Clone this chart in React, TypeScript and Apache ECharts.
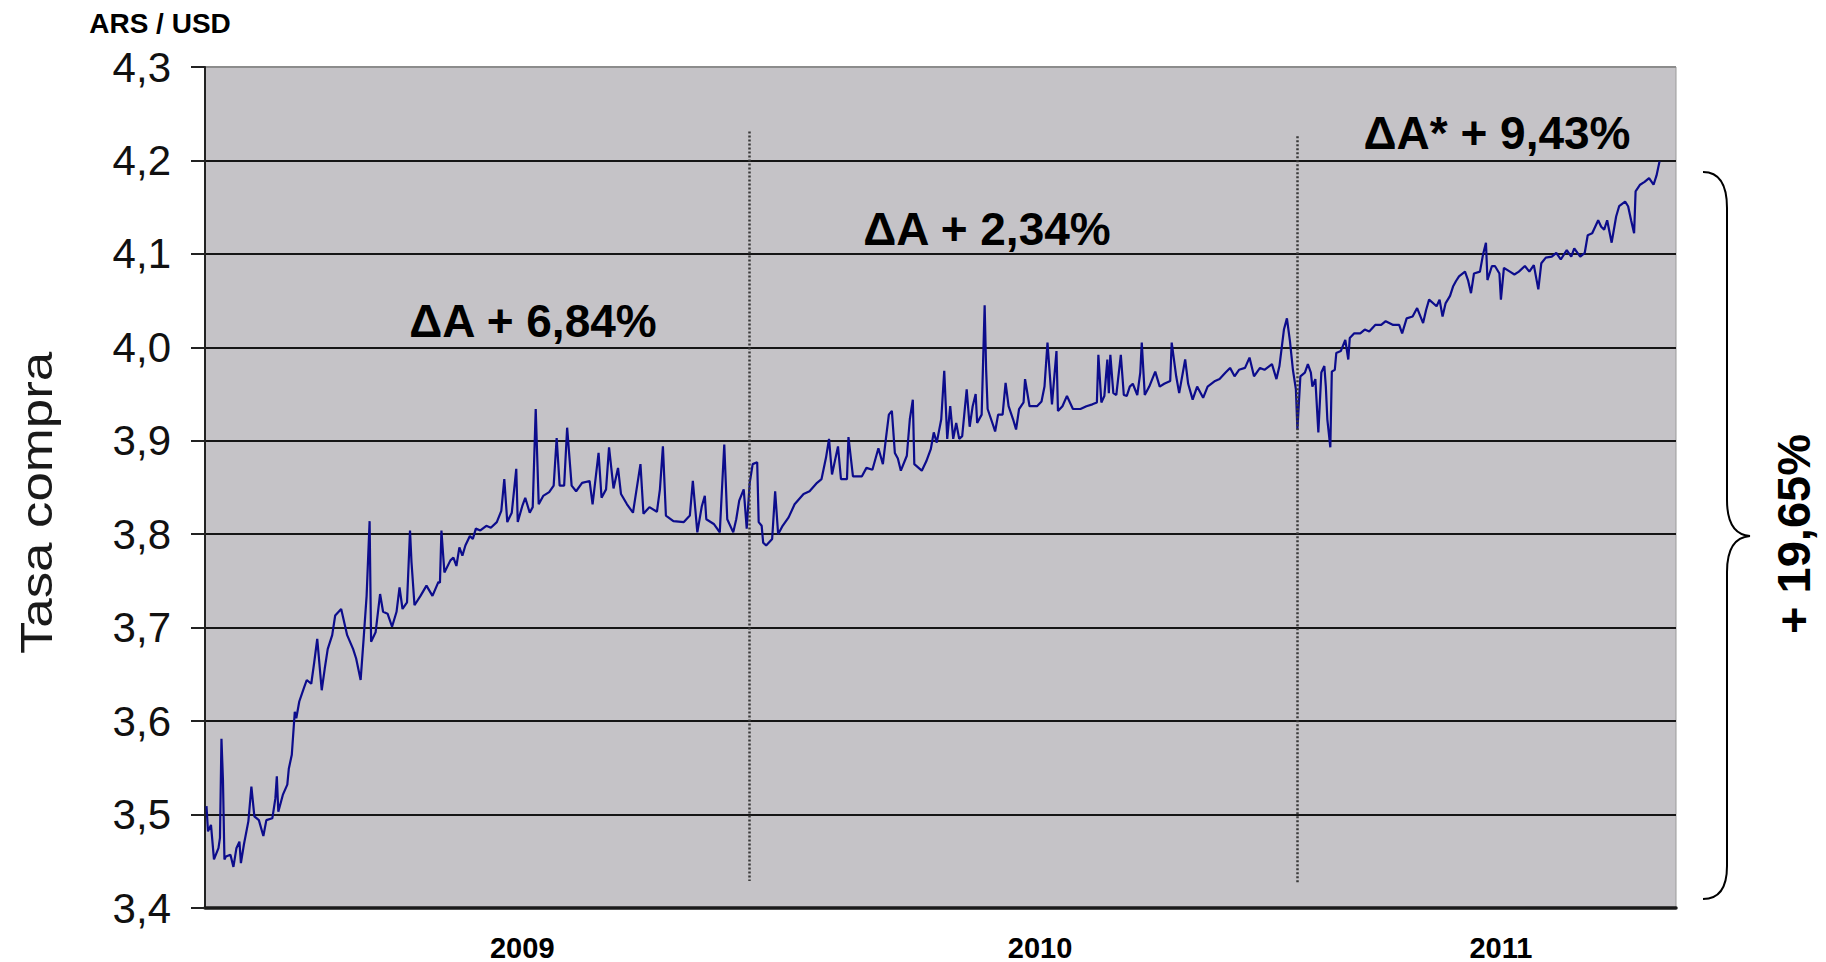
import React, { useEffect, useRef } from "react";
import * as echarts from "echarts";

// Days since the first observation (left edge of the chart) and buying rate ARS/USD
const days = [
  1, 2, 4, 6, 9, 10, 11, 12, 13, 14, 17, 19, 21, 23, 24, 26, 29, 31, 33, 36, 39, 41, 45, 47, 48, 49,
  52, 55, 56, 58, 60, 61, 63, 66, 68, 71, 73, 75, 78, 80, 82, 85, 87, 91, 95, 99, 101, 104, 106, 108,
  110, 111, 114, 117, 119, 122, 125, 128, 130, 132, 135, 137, 138, 140, 144, 148, 152, 156,
  157, 158, 159, 160, 164, 166, 168, 170, 172, 174, 177, 179, 181, 184, 188, 191, 195, 198, 200, 202,
  205, 208, 209, 212, 214, 217, 219, 221, 223, 226, 230, 233, 235, 237, 240, 242, 245, 248, 252, 257,
  259, 263, 265, 268, 270, 273, 276, 278, 282, 286, 291, 293, 297, 302,
  304, 306, 308, 313, 320, 324, 326, 329, 332, 334, 335, 340, 344, 347, 349, 353, 355, 357, 360, 362,
  364, 366, 369, 370, 372, 373, 375, 379, 381, 383, 386, 390, 394, 400, 404, 409, 412, 415, 417, 419,
  423, 425, 429, 430, 433, 439, 442, 446, 450,
  453, 455, 457, 459, 461, 463, 465, 469, 471, 473, 474, 479, 482, 485, 487, 489, 492, 494, 496, 498,
  500, 502, 504, 506, 509, 511, 513, 515, 516, 519, 521, 522, 523, 527, 528, 530, 533, 535, 537, 540,
  542, 544, 547, 548, 551, 556, 559, 561, 563, 566, 569, 570, 573, 576, 580, 585, 589, 593, 596, 597,
  599, 601, 603, 604, 605, 607, 609, 612, 614, 616, 618, 620, 623, 625, 626, 628, 631, 635, 638, 641,
  645, 646, 649, 651, 655, 657, 660, 663, 667, 670, 675, 678, 682, 685, 688, 691, 695, 698, 701, 705,
  708, 713, 716, 718, 721, 723, 725, 727, 729, 730, 732, 735, 737, 739, 740, 742, 744, 746, 748, 749,
  750, 752, 753, 755, 756, 759, 762, 764, 765, 768, 772, 775, 778, 782, 786, 789, 794, 798, 800, 803,
  807, 810, 814, 816, 818, 823, 825, 827, 829, 832, 834, 836, 838, 842, 844, 846, 848, 852, 854, 856,
  857, 860, 862, 865, 866, 868, 872, 875, 878, 882, 885, 888, 891, 893, 896, 900, 903, 906, 910, 913,
  915, 919, 922, 924, 927, 931, 933, 935, 937, 940, 943, 945, 949, 951, 953, 955, 956, 959, 962, 965,
  968, 970, 972,
];

const rates = [
  3.509, 3.482, 3.489, 3.452, 3.464, 3.475, 3.581, 3.537, 3.452, 3.455, 3.457, 3.444, 3.464, 3.471, 3.448, 3.468, 3.493, 3.53, 3.498, 3.494, 3.477, 3.494, 3.496, 3.517, 3.541, 3.503,
  3.521, 3.532, 3.549, 3.564, 3.61, 3.603, 3.621, 3.635, 3.644, 3.64, 3.663, 3.688, 3.633, 3.656, 3.677, 3.692, 3.713, 3.72, 3.692, 3.677, 3.667, 3.644, 3.688, 3.734,
  3.814, 3.685, 3.695, 3.736, 3.717, 3.715, 3.701, 3.717, 3.743, 3.72, 3.727, 3.804, 3.77, 3.724, 3.734, 3.745, 3.734, 3.749,
  3.748, 3.804, 3.781, 3.759, 3.772, 3.775, 3.766, 3.786, 3.777, 3.788, 3.798, 3.795, 3.806, 3.804, 3.809, 3.807, 3.813, 3.825, 3.859, 3.813,
  3.823, 3.87, 3.813, 3.83, 3.839, 3.823, 3.829, 3.934, 3.832, 3.841, 3.845, 3.852, 3.903, 3.852, 3.852, 3.914, 3.852, 3.846, 3.855, 3.857,
  3.832, 3.887, 3.839, 3.848, 3.893, 3.849, 3.871, 3.843, 3.832, 3.823, 3.875, 3.822, 3.829, 3.824,
  3.848, 3.894, 3.82, 3.814, 3.813, 3.82, 3.857, 3.802, 3.83, 3.841, 3.816, 3.811, 3.802, 3.896, 3.816, 3.802, 3.816, 3.836, 3.848, 3.806,
  3.855, 3.875, 3.877, 3.813, 3.809, 3.791, 3.788, 3.795, 3.846, 3.8, 3.809, 3.818, 3.832, 3.843, 3.846, 3.855, 3.859, 3.882, 3.902, 3.864,
  3.894, 3.859, 3.859, 3.904, 3.862, 3.862, 3.871, 3.869, 3.892,
  3.875, 3.902, 3.928, 3.932, 3.887, 3.881, 3.868, 3.884, 3.923, 3.944, 3.875, 3.868, 3.878, 3.891, 3.909, 3.898, 3.923, 3.975, 3.902, 3.937,
  3.902, 3.919, 3.902, 3.905, 3.955, 3.915, 3.937, 3.95, 3.919, 3.928, 4.045, 3.976, 3.934, 3.915, 3.91, 3.928, 3.928, 3.962, 3.937, 3.923,
  3.912, 3.934, 3.941, 3.966, 3.937, 3.937, 3.942, 3.958, 4.005, 3.939, 3.996, 3.932, 3.937, 3.948, 3.934, 3.934, 3.937, 3.939, 3.941, 3.992,
  3.941, 3.948, 3.987, 3.951, 3.992, 3.951, 3.949, 3.992, 3.949, 3.948, 3.958, 3.961, 3.949, 3.973, 4.005, 3.949, 3.958, 3.974, 3.958, 3.961,
  3.964, 4.005, 3.969, 3.951, 3.987, 3.961, 3.944, 3.958, 3.946, 3.958, 3.964, 3.966, 3.973, 3.978, 3.969, 3.976, 3.978, 3.989, 3.969, 3.978,
  3.976, 3.982, 3.966, 3.98, 4.019, 4.031, 4.007, 3.976, 3.955, 3.912, 3.969, 3.973, 3.982, 3.973, 3.958, 3.966, 3.909, 3.973, 3.98, 3.958,
  3.923, 3.893, 3.974, 3.976, 3.994, 3.996, 4.008, 3.987, 4.01, 4.015, 4.015, 4.019, 4.017, 4.024, 4.024, 4.028, 4.024, 4.024, 4.015, 4.031,
  4.033, 4.042, 4.026, 4.04, 4.051, 4.044, 4.051, 4.033, 4.047, 4.055, 4.065, 4.071, 4.076, 4.081, 4.072, 4.058, 4.079, 4.081, 4.099, 4.112,
  4.072, 4.087, 4.087, 4.079, 4.051, 4.085, 4.081, 4.078, 4.081, 4.087, 4.081, 4.088, 4.062, 4.09, 4.096, 4.097, 4.101, 4.094, 4.104, 4.097,
  4.106, 4.097, 4.101, 4.12, 4.122, 4.136, 4.129, 4.126, 4.136, 4.112, 4.14, 4.151, 4.156, 4.151, 4.136, 4.122, 4.167, 4.174, 4.177, 4.181,
  4.174, 4.184, 4.199,
];

// Axis range and labels
const dayMax = 983;
const rateMin = 3.4;
const rateMax = 4.3;
const rateStep = 0.1;
const yearLabels = ["2009", "2010", "2011"];
const yearLabelDays = [212, 558, 866];

// Period separators (day, top rate, bottom rate)
const separatorDays = [364, 730];
const separatorTop = [4.231, 4.226];
const separatorBottom = [3.429, 3.427];

// Annotations
const periodTexts = ["\u0394A + 6,84%", "\u0394A + 2,34%", "\u0394A* + 9,43%"];
const totalText = "+ 19,65%";
const unitText = "ARS / USD";
const axisTitle = "Tasa compra";

const FONT = '"Liberation Sans", Arial, Helvetica, sans-serif';

let braceRegistered = false;
function registerBrace() {
  if (braceRegistered) return;
  braceRegistered = true;
  const d =
    "M1703,172 C1717,172 1727,182 1727,208 L1727,500 C1727,524 1736,535 1750,536 " +
    "C1736,537 1727,548 1727,572 L1727,866 C1727,890 1717,899 1703,899";
  echarts.graphic.registerShape("brace", echarts.graphic.extendPath(d, {}));
}

export default function App() {
  const ref = useRef<HTMLDivElement>(null);

  useEffect(() => {
    if (!ref.current) return;
    registerBrace();
    const chart = echarts.init(ref.current, undefined, { renderer: "svg" });

    const lineData = days.map((d, i) => [d, rates[i]]);
    const splitColors = Array.from({ length: 10 }, (_, i) => (i === 9 ? "#8c8c8c" : "#151515"));

    const textStyle = (size: number, weight: string) => ({
      fontSize: size,
      fontWeight: weight,
      fontFamily: FONT,
      fill: "#000",
      textAlign: "center",
      textVerticalAlign: "middle",
    });

    const option: any = {
      animation: false,
      backgroundColor: "#ffffff",
      grid: {
        left: 205,
        right: 150,
        top: 67,
        bottom: 52,
        show: true,
        backgroundColor: "#c5c3c7",
        borderColor: "#9a9a9a",
        borderWidth: 1,
      },
      xAxis: {
        type: "value",
        min: 0,
        max: dayMax,
        axisLine: { show: true, lineStyle: { color: "#1a1a1a", width: 3.5 } },
        axisTick: { show: false },
        splitLine: { show: false },
        axisLabel: {
          customValues: yearLabelDays,
          formatter: (v: number) => {
            const i = yearLabelDays.indexOf(v);
            return i >= 0 ? yearLabels[i] : "";
          },
          fontSize: 29,
          fontWeight: "bold",
          fontFamily: FONT,
          color: "#000",
          margin: 25,
        },
      },
      yAxis: {
        type: "value",
        min: rateMin,
        max: rateMax,
        interval: rateStep,
        axisLine: { show: true, lineStyle: { color: "#222", width: 2 } },
        axisTick: { show: true, length: 14, lineStyle: { color: "#222", width: 2 } },
        splitLine: { show: true, lineStyle: { color: splitColors, width: 2 } },
        axisLabel: {
          formatter: (v: number) => v.toFixed(1).replace(".", ","),
          fontSize: 42,
          fontFamily: FONT,
          color: "#111",
          margin: 34,
        },
      },
      series: [
        {
          type: "line",
          data: lineData,
          showSymbol: false,
          symbol: "none",
          lineStyle: { color: "#0c0c8c", width: 2.2 },
          z: 3,
          markLine: {
            silent: true,
            symbol: ["none", "none"],
            label: { show: false },
            lineStyle: { color: "#3a3a3a", width: 2.5, type: [2, 2] },
            data: separatorDays.map((d, i) => [
              { coord: [d, separatorTop[i]] },
              { coord: [d, separatorBottom[i]] },
            ]),
          },
        },
      ],
      graphic: [
        {
          type: "text",
          x: 160,
          y: 23,
          style: { text: unitText, ...textStyle(28, "bold") },
        },
        {
          type: "text",
          x: 37,
          y: 503,
          rotation: Math.PI / 2,
          scaleX: 1.2,
          style: { text: axisTitle, ...textStyle(44, "normal"), fill: "#1a1a1a" },
        },
        {
          type: "text",
          x: 533,
          y: 321,
          z: 10,
          style: { text: periodTexts[0], ...textStyle(46, "bold") },
        },
        {
          type: "text",
          x: 987,
          y: 229,
          z: 10,
          style: { text: periodTexts[1], ...textStyle(46, "bold") },
        },
        {
          type: "text",
          x: 1497,
          y: 133,
          z: 10,
          style: { text: periodTexts[2], ...textStyle(46, "bold") },
        },
        {
          type: "brace",
          x: 0,
          y: 0,
          shape: {},
          style: { stroke: "#000", fill: "none", lineWidth: 2 },
        },
        {
          type: "text",
          x: 1793,
          y: 534,
          rotation: Math.PI / 2,
          style: { text: totalText, ...textStyle(47, "bold") },
        },
      ],
    };

    chart.setOption(option);
    return () => chart.dispose();
  }, []);

  return (
    <div
      ref={ref}
      style={{ position: "absolute", left: 0, top: 0, width: 1826, height: 962 }}
    />
  );
}
